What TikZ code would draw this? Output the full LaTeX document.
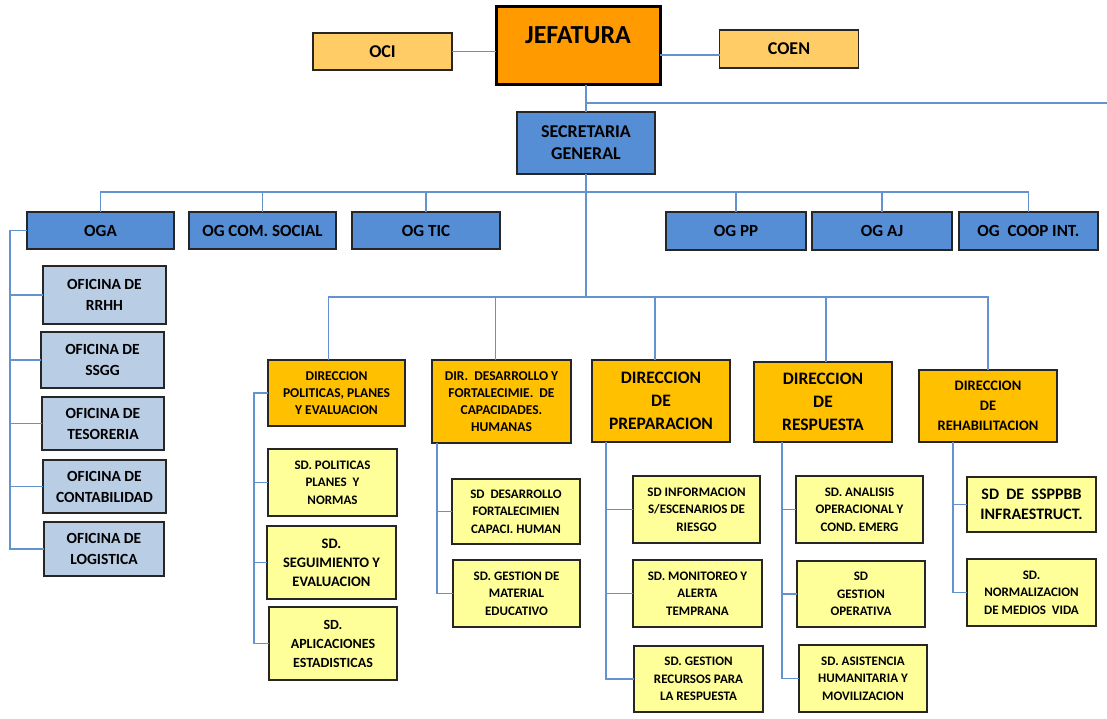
\documentclass[tikz,border=0pt]{standalone}
\usepackage{fontspec}
\setmainfont{Carlito}
\usetikzlibrary{positioning}
\definecolor{jfnaranja}{HTML}{FF9A00}
\definecolor{jfasesor}{HTML}{FFCC66}
\definecolor{jfazul}{HTML}{558ED5}
\definecolor{jfceleste}{HTML}{B9CDE5}
\definecolor{jfdir}{HTML}{FFC000}
\definecolor{jfsub}{HTML}{FFFF99}
\definecolor{jflinea}{HTML}{6392D0}

\begin{document}
\begin{tikzpicture}[x=1pt,y=-1pt,
   caja/.style={draw=black!85,line width=1.3pt,inner sep=1pt,outer sep=0pt,
                align=center,font=\bfseries},
   wh/.style n args={2}{minimum width=#1pt,minimum height=#2pt},
   jefe/.style={caja,fill=jfnaranja,draw=black,line width=3pt,
                font=\fontsize{26}{30}\selectfont\bfseries,text depth=22pt},
   asesor/.style={caja,fill=jfasesor,font=\fontsize{18}{20}\selectfont\bfseries},
   og/.style={caja,fill=jfazul,font=\fontsize{17}{20}\selectfont\bfseries},
   oficina/.style={caja,fill=jfceleste,font=\fontsize{15.5}{21}\selectfont\bfseries},
   dir/.style={caja,fill=jfdir,font=\fontsize{13.5}{17}\selectfont\bfseries},
   dirgrande/.style={dir,font=\fontsize{17.5}{23}\selectfont\bfseries},
   sub/.style={caja,fill=jfsub,font=\fontsize{13}{17.5}\selectfont\bfseries},
   link/.style={draw=jflinea,line width=1.5pt}]
  \useasboundingbox (0,0) rectangle (1107,719);
  % alta direccion
  \node[jefe,wh={164}{78}] (jef) at (578,46) {JEFATURA};
  \node[asesor,wh={139}{37}] (oci) at (382.5,51.5) {OCI};
  \node[asesor,wh={139}{38}] (coen) at (789,49) {COEN};
  \node[og,wh={138}{62},font=\fontsize{18}{22}\selectfont\bfseries] (sec) at (586,143) {SECRETARIA\\GENERAL};
  % organos de apoyo y asesoramiento
  \node[og,wh={147}{37}] (oga) at (100.5,230.5) {OGA};
  \node[og,wh={147}{37}] (ogcom) at (262.5,230.5) {OG COM. SOCIAL};
  \node[og,wh={148}{37}] (ogtic) at (426,230.5) {OG TIC};
  \node[og,wh={140}{38}] (ogpp) at (736,231) {OG PP};
  \node[og,wh={140}{38}] (ogaj) at (882,231) {OG AJ};
  \node[og,wh={139}{38}] (ogcoop) at (1028.5,231) {OG\ \ COOP INT.};
  \node[oficina,wh={123}{58}] (ofirrhh) at (104.5,295) {OFICINA DE\\RRHH};
  \node[oficina,wh={123}{56}] (ofissgg) at (102.5,360) {OFICINA DE\\SSGG};
  \node[oficina,wh={122}{53}] (ofites) at (103,423.5) {OFICINA DE\\TESORERIA};
  \node[oficina,wh={123}{53}] (oficont) at (104.5,486.5) {OFICINA DE\\CONTABILIDAD};
  \node[oficina,wh={120}{54}] (ofilog) at (104,549) {OFICINA DE\\LOGISTICA};
  % organos de linea
  \node[dir,wh={137}{66}] (dpol) at (336.5,393) {DIRECCION\\POLITICAS, PLANES\\Y EVALUACION};
  \node[dir,wh={139}{83}] (ddes) at (501.5,401.5) {DIR.\ \ DESARROLLO Y\\FORTALECIMIE.\ \ DE\\CAPACIDADES.\\HUMANAS};
  \node[dirgrande,wh={138}{82}] (dprep) at (661,401) {DIRECCION\\DE\\PREPARACION};
  \node[dirgrande,wh={138}{80}] (dres) at (823,402) {DIRECCION\\DE\\RESPUESTA};
  \node[dir,wh={138}{72},font=\fontsize{14.5}{20}\selectfont\bfseries] (dreh) at (988,406) {DIRECCION\\DE\\REHABILITACION};
  \node[sub,wh={129}{67}] (sdpol) at (332.5,482.5) {SD. POLITICAS\\PLANES\ \ Y\\NORMAS};
  \node[sub,wh={129}{73},font=\fontsize{14.5}{19}\selectfont\bfseries] (sdseg) at (331.5,562.5) {SD.\\SEGUIMIENTO Y\\EVALUACION};
  \node[sub,wh={128}{73},font=\fontsize{14}{19}\selectfont\bfseries] (sdapl) at (333,643.5) {SD.\\APLICACIONES\\ESTADISTICAS};
  \node[sub,wh={128}{65}] (sddes) at (516,511.5) {SD\ \ DESARROLLO\\FORTALECIMIEN\\CAPACI. HUMAN};
  \node[sub,wh={127}{67}] (sdmat) at (516.5,593.5) {SD. GESTION DE\\MATERIAL\\EDUCATIVO};
  \node[sub,wh={127}{67}] (sdinf) at (696.5,509.5) {SD INFORMACION\\S/ESCENARIOS DE\\RIESGO};
  \node[sub,wh={129}{67}] (sdmon) at (697.5,593.5) {SD. MONITOREO Y\\ALERTA\\TEMPRANA};
  \node[sub,wh={129}{66}] (sdrec) at (698.5,679) {SD. GESTION\\RECURSOS PARA\\LA RESPUESTA};
  \node[sub,wh={127}{67}] (sdana) at (859.5,509.5) {SD. ANALISIS\\OPERACIONAL Y\\COND. EMERG};
  \node[sub,wh={128}{66}] (sdope) at (861,594) {SD\\GESTION\\OPERATIVA};
  \node[sub,wh={128}{67}] (sdasi) at (863,678.5) {SD. ASISTENCIA\\HUMANITARIA Y\\MOVILIZACION};
  \node[sub,wh={129}{55},font=\fontsize{16}{20}\selectfont\bfseries] (sdssp) at (1031.5,504.5) {SD\ \ DE\ \ SSPPBB\\INFRAESTRUCT.};
  \node[sub,wh={129}{67}] (sdnor) at (1031.5,592.5) {SD.\\NORMALIZACION\\DE MEDIOS\ \ VIDA};
  % conectores
  \coordinate (derecha) at (1107,103);
  \coordinate (bus1) at (586,192);
  \coordinate (bus2) at (586,297);
  \coordinate (ogaspine) at (10,0);
  \coordinate (polspine) at (254,0);
  \coordinate (desspine) at ([xshift=5pt]ddes.south west);
  \coordinate (prepspine) at ([xshift=14pt]dprep.south west);
  \coordinate (resspine) at ([xshift=28pt]dres.south west);
  \coordinate (rehspine) at ([xshift=34pt]dreh.south west);
  \draw[link] (oci.east) -- (oci.east -| jef.west);
  \draw[link] ([yshift=-6pt]coen.west) -- ([yshift=-6pt]coen.west -| jef.east);
  \draw[link] (sec.north) -- (sec.north |- jef.south);
  \draw[link] (sec.north |- derecha) -- (derecha);
  \draw[link] (sec.south) -- (bus2);
  \draw[link] (oga.north) |- (bus1) -| (ogcoop.north);
  \foreach \n in {ogcom,ogtic,ogpp,ogaj}
    \draw[link] (\n.north) -- (\n.north |- bus1);
  \draw[link] ([xshift=-8pt]dpol.north) |- (bus2) -| (dreh.north);
  \draw[link] ([xshift=-6pt]ddes.north) -- ([xshift=-6pt]ddes.north |- bus2);
  \draw[link] ([xshift=-6pt]dprep.north) -- ([xshift=-6pt]dprep.north |- bus2);
  \draw[link] ([xshift=3pt]dres.north) -- ([xshift=3pt]dres.north |- bus2);
  % dependencias
  \draw[link] (oga.west) -| (ogaspine |- ofilog.west) -- (ofilog.west);
  \foreach \n in {ofirrhh,ofissgg,ofites,oficont}
    \draw[link] (\n.west) -- (\n.west -| ogaspine);
  \draw[link] (dpol.west) -| (polspine |- sdapl.west) -- (sdapl.west);
  \foreach \n in {sdpol,sdseg}
    \draw[link] (\n.west) -- (\n.west -| polspine);
  \draw[link] (desspine) |- (sdmat.west);
  \draw[link] (sddes.west) -- (sddes.west -| desspine);
  \draw[link] (prepspine) |- (sdrec.west);
  \foreach \n in {sdinf,sdmon}
    \draw[link] (\n.west) -- (\n.west -| prepspine);
  \draw[link] (resspine) |- (sdasi.west);
  \foreach \n in {sdana,sdope}
    \draw[link] (\n.west) -- (\n.west -| resspine);
  \draw[link] (rehspine) |- (sdnor.west);
  \draw[link] (sdssp.west) -- (sdssp.west -| rehspine);
\end{tikzpicture}
\end{document}
